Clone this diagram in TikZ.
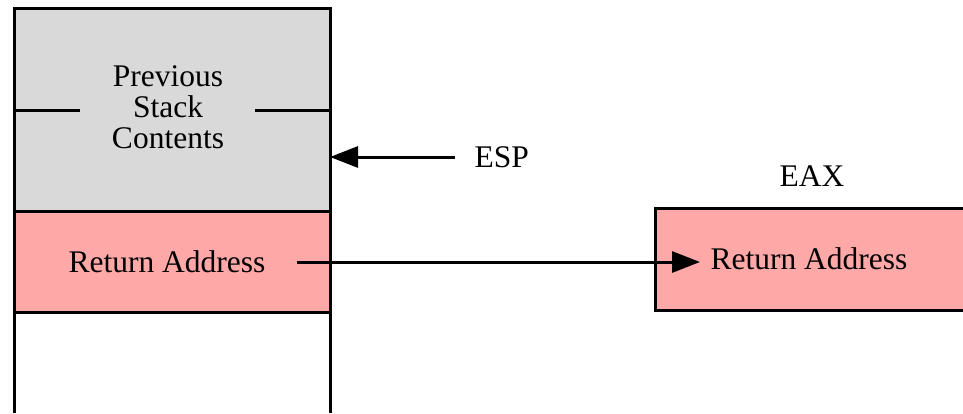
\documentclass[tikz,border=0pt]{standalone}
\usepackage{fontspec}
\setmainfont{Liberation Serif}
\usetikzlibrary{arrows.meta}
\definecolor{stackgray}{HTML}{D9D9D9}
\definecolor{stackpink}{HTML}{FFA8A8}
\begin{document}
\begin{tikzpicture}[x=1pt,y=-1pt,line width=3pt,
  lbl/.style={inner sep=0pt,font=\fontsize{31.5}{31}\selectfont,align=center},
  ptr/.style={-{Triangle[length=28pt,width=21pt]}}]
\useasboundingbox (0,0) rectangle (963,413);
% stack fills
\fill[stackgray] (14,8) rectangle (330,211);
\fill[stackpink] (14,211) rectangle (330,312);
% EAX box fill
\fill[stackpink] (655,208) rectangle (963,310);
% stack outline
\draw[line join=miter] (14,413) -- (14,8) -- (330,8) -- (330,413);
\draw (14,211) -- (330,211);
\draw (14,312) -- (330,312);
\draw (14,110) -- (80,110);
\draw (255,110) -- (330,110);
% EAX box outline
\draw[line join=miter] (963,208) -- (655,208) -- (655,310) -- (963,310);
% texts
\node[lbl] (prev) at (168,107) {Previous\\Stack\\Contents};
\node[lbl] (ra) at (167,262) {Return Address};
\node[lbl,anchor=west] (esp) at (473,157) {ESP};
\node[lbl] (eax) at (812,176) {EAX};
\node[lbl] (ra2) at (809,259) {Return Address};
% pointers
\coordinate (espstart) at (455,157);
\coordinate (espend) at (330,157);
\coordinate (rastart) at (297,262);
\coordinate (raend) at (700,262);
\draw[ptr] (espstart) -- (espend);
\draw[ptr] (rastart) -- (raend);
\end{tikzpicture}
\end{document}
